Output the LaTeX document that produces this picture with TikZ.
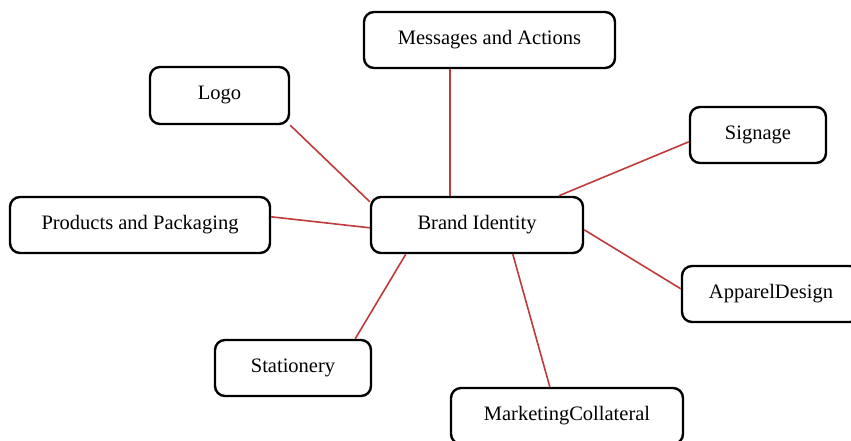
\documentclass[tikz,border=0pt]{standalone}
\usepackage{fontspec}
\setmainfont{Liberation Serif}
\usetikzlibrary{calc}
\definecolor{linkred}{RGB}{192,58,58}
\tikzset{
  box/.style={draw=black, line width=2.4pt, rounded corners=10pt, fill=white, minimum height=56pt, inner sep=0pt, font=\fontsize{20.5}{24}\selectfont},
  link/.style={draw=linkred, line width=1.6pt}
}
\begin{document}
\begin{tikzpicture}[x=1pt,y=-1pt]
\useasboundingbox (0,0) rectangle (851,441);
\begin{scope}
\clip (0,0) rectangle (851,441);
\node[box, minimum width=212pt] (brand) at (477,225) {Brand Identity};
\node[box, minimum width=251pt] (msg) at (489.5,40) {Messages and Actions};
\node[box, minimum width=139pt, minimum height=57pt] (logo) at (219.5,95.5) {Logo};
\node[box, minimum width=136pt] (sign) at (758,135) {Signage};
\node[box, minimum width=260pt] (prod) at (140,225) {Products and Packaging};
\node[box, minimum width=178pt] (app) at (771,294) {ApparelDesign};
\node[box, minimum width=156pt] (stat) at (293,368) {Stationery};
\node[box, minimum width=232pt] (mark) at (567,416) {MarketingCollateral};
\begin{scope}[on background layer/.try]
\end{scope}
\end{scope}
\begin{scope}
\clip (0,0) rectangle (851,441);
\path[link] ($(brand.north west)+(80,0)$) -- ($(msg.south west)+(87,0)$);
\path[link] ($(brand.north west)+(0,6)$) -- ($(logo.south east)+(0,0)$);
\path[link] ($(brand.north west)+(189,0)$) -- ($(sign.north west)+(0,36)$);
\path[link] ($(brand.north west)+(0,32)$) -- ($(prod.north east)+(0,21)$);
\path[link] ($(brand.north east)+(0,34)$) -- ($(app.north west)+(0,24)$);
\path[link] ($(brand.south west)+(36,0)$) -- ($(stat.north east)+(-17,0)$);
\path[link] ($(brand.south west)+(143,0)$) -- ($(mark.north west)+(100,0)$);
\end{scope}
\end{tikzpicture}
\end{document}
